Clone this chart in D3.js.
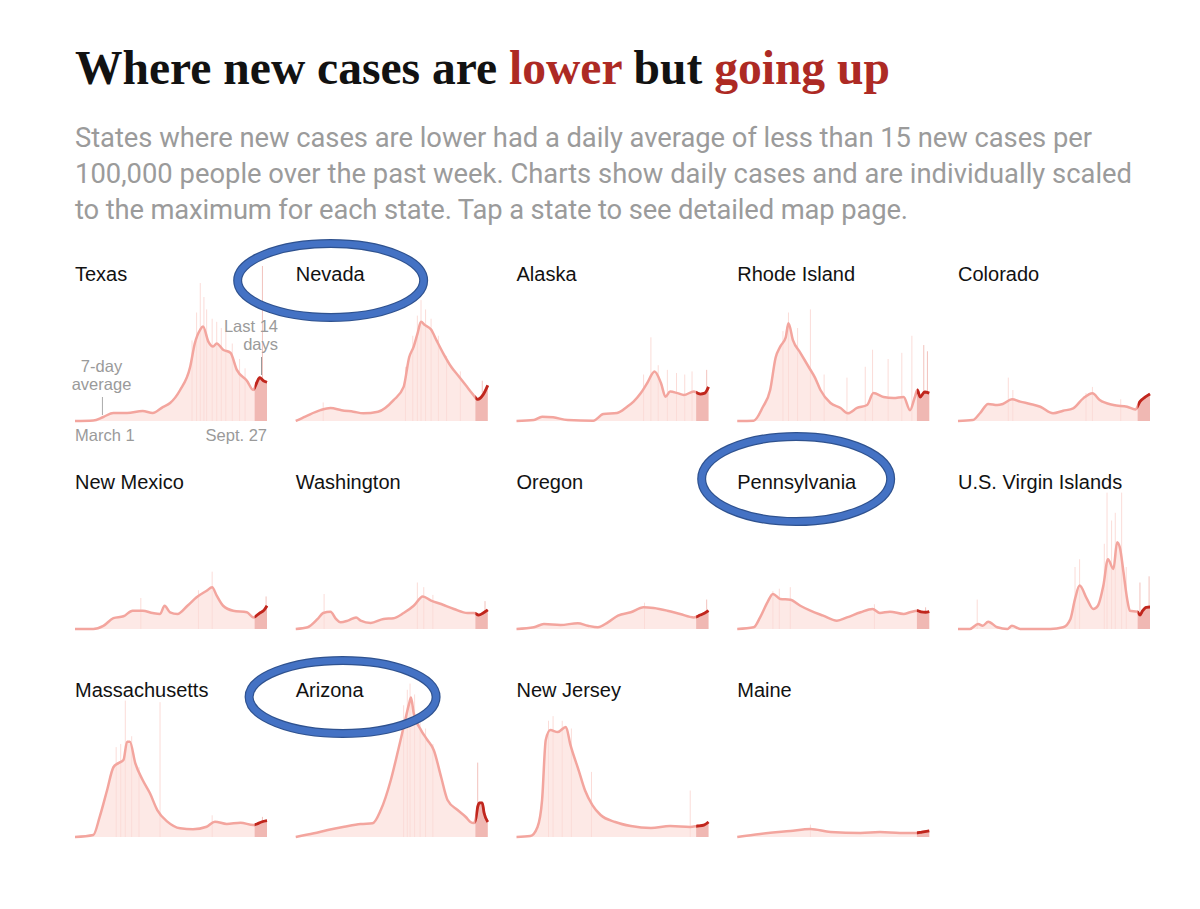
<!DOCTYPE html>
<html><head><meta charset="utf-8">
<script src="https://cdn.jsdelivr.net/npm/d3@7"></script>
<style>body{margin:0;background:#fff}</style>
</head><body><svg id="c" width="1200" height="909"></svg>
<script>
// ---------------- DATA ----------------
const titleParts = [["Where new cases are ", "#121212"], ["lower", "#ad2a24"], [" but ", "#121212"], ["going up", "#ad2a24"]];
const subtitleLines = [
  "States where new cases are lower had a daily average of less than 15 new cases per",
  "100,000 people over the past week. Charts show daily cases and are individually scaled",
  "to the maximum for each state. Tap a state to see detailed map page."
];
const stateNames = ["Texas","Nevada","Alaska","Rhode Island","Colorado","New Mexico","Washington","Oregon","Pennsylvania","U.S. Virgin Islands","Massachusetts","Arizona","New Jersey","Maine"];
const dateLabels = ["March 1", "Sept. 27"];
const avgLabel = ["7-day", "average"];
const last14Label = ["Last 14", "days"];
const totalDays = 210;        // March 1 .. Sept. 27
const last14Start = 196.5;    // Sept. 14

// 7-day average: [day index since March 1, % of state's highest daily count]
const texasAvg = [[0,0],[20,0.3],[31,2.6],[42,5.2],[57,5.2],[74,6.5],[85,5.2],[96,9],[104,11.6],[115,20],[126,35],[131,50],[137,59],[140,61],[146,51],[151,48],[155,50],[162,46],[170,44],[177,33],[188,26],[195,20],[199,25],[202,28],[206,26],[210,25]];
const nevadaAvg = [[0,0],[11,3],[27,7],[38,8.4],[50,7],[63,6],[74,5],[90,6],[107,13.5],[118,22],[124,41],[129,48],[133,56],[137,64],[141,62],[148,59],[154,52],[161,44],[170,35],[178,29],[186,23],[194,17],[199,14],[205,17],[210,23]];
const alaskaAvg = [[0,0],[19,0.6],[28,2.8],[40,2.4],[56,0.6],[84,0.2],[95,4.5],[110,5.2],[121,9.2],[128,12.5],[136,18],[143,24.5],[151,32],[158,24.5],[163,15.7],[168,19],[176,18],[183,16.8],[194,19],[198,18],[201,17.4],[206,18],[210,22]];
const rhodeIslandAvg = [[0,0],[18,0.2],[28,9],[36,20],[42,41],[47,48],[53,54],[56,63],[61,52],[69,44],[78,35],[85,28],[91,20],[102,11.6],[113,8.4],[121,5],[131,8.4],[142,10.3],[149,18],[160,15.5],[171,14.8],[182,15.5],[189,7],[194,15],[197,20],[200,15.5],[205,18.7],[210,18]];
const coloradoAvg = [[0,0],[16,0.6],[24,5],[33,11],[43,10.3],[49,11],[59,14],[68,12.5],[79,11],[90,9.2],[104,5],[115,6.6],[126,8.2],[137,14.6],[147,17.9],[155,13.5],[170,10.3],[185,9.2],[194,7.5],[199,12.5],[205,15.5],[210,17.4]];
const newMexicoAvg = [[0,0],[20,0],[31,2],[42,7],[53,8.2],[63,11.8],[74,11.8],[85,10.3],[93,9.7],[98,15],[104,10.8],[112,9.7],[123,15],[133,20.5],[144,24.7],[150,26.9],[155,21.5],[162,15],[173,11.8],[188,10.8],[195,7.5],[202,10.3],[207,12.3],[210,15]];
const washingtonAvg = [[0,0],[13,1.1],[24,6.5],[30,10.3],[38,11.2],[44,6.5],[49,4.3],[57,5.4],[66,7.5],[71,5.4],[82,3.9],[96,6.5],[107,6.9],[118,10.3],[129,15],[139,21],[148,18.3],[159,16.1],[173,12.9],[188,10.3],[195,10.3],[200,9],[205,10.3],[210,12.3]];
const oregonAvg = [[0,0],[19,1.1],[30,3.2],[48,2.6],[67,3.7],[78,2.1],[89,1.1],[100,4.3],[111,8.6],[125,10.8],[139,14],[150,13.5],[165,11.8],[179,9.7],[194,7.5],[201,9],[206,10.3],[210,11.8]];
const pennsylvaniaAvg = [[0,0],[18,1.1],[25,7.5],[33,17.2],[39,22.6],[47,19.4],[58,18.9],[69,15],[80,11.8],[94,8.6],[109,5.4],[120,7.5],[135,10.8],[148,12.9],[156,10.3],[167,11.2],[182,9.7],[189,10.8],[197,11.8],[201,11],[206,10.8],[210,11.2]];
const virginIslandsAvg = [[0,0],[13,0],[22,3.2],[27,2.1],[33,4.7],[43,1.1],[54,0],[59,2.1],[68,0],[101,0],[115,1.1],[123,6.5],[128,19.4],[133,28],[141,19.4],[148,12.9],[153,15],[159,28],[164,45],[170,38.7],[174,56],[177,52.7],[181,36.6],[185,19.4],[188,11.8],[196,11.2],[199,9],[202,11.8],[206,14],[210,14.2]];
const massachusettsAvg = [[0,0],[20,1.3],[27,13],[35,30],[42,45],[47,47.5],[53,49.7],[57,61.5],[60,61.5],[66,47.5],[74,36.8],[82,28.2],[90,17.4],[101,9.9],[115,5.6],[129,5],[144,6.6],[153,9.9],[166,8.4],[181,9.2],[195,7.7],[199,8.4],[204,9.7],[210,10.5]];
const arizonaAvg = [[0,0],[20,2.4],[35,4.5],[53,6.6],[71,8.4],[84,8.8],[93,17.4],[104,36.8],[112,56],[118,71],[124,86],[126,90],[129,80],[137,69],[144,62.6],[151,56],[159,38.7],[166,23.9],[177,17.4],[186,12.9],[191,9.7],[195,9],[197,12],[199,19.4],[201,22],[204,22],[206,15.5],[210,9.7]];
const newJerseyAvg = [[0,0],[15,0.6],[23,6.5],[28,24],[32,62.6],[37,69],[45,67.7],[54,71],[59,59.4],[68,43],[75,30],[83,20.6],[92,14.2],[108,9.7],[125,7.1],[147,5.8],[168,7.1],[190,6.5],[198,7.1],[205,7.7],[210,9.7]];
const maineAvg = [[0,0],[25,1.9],[58,3.9],[80,5.2],[102,3.2],[135,2.6],[156,3.2],[178,2.6],[195,2.6],[202,3.2],[210,3.9]];

// notable daily bars: [day index, % of state's highest daily count]
const texasSpikes = [[128,52],[133,70],[137,89],[141,80],[144,72],[150,66],[155,64],[160,60],[165,58],[172,50],[180,40],[186,34],[205,100]];
const nevadaSpikes = [[30,12],[120,35],[128,55],[133,68],[137,78],[142,72],[148,66],[156,55],[165,42],[180,32],[204,26]];
const alaskaSpikes = [[139,30],[147,54],[155,36],[165,33],[175,31],[184,30],[192,32],[208,33]];
const rhodeIslandSpikes = [[50,58],[56,70],[66,60],[80,72],[95,30],[120,28],[140,35],[148,46],[165,40],[180,44],[191,55],[204,49],[208,45]];
const coloradoSpikes = [[55,28],[60,20],[140,18],[147,22],[178,14]];
const newMexicoSpikes = [[72,20],[135,25],[150,37],[209,21]];
const washingtonSpikes = [[31,22.6],[133,30],[140,27],[150,22],[207,18]];
const oregonSpikes = [[140,17],[208,19]];
const pennsylvaniaSpikes = [[39,24.5],[46,26],[58,27],[150,16],[206,14]];
const virginIslandsSpikes = [[21,19],[128,40],[133,45],[160,55],[163,88],[168,70],[172,75],[179,88],[184,40],[199,30],[209,34]];
const massachusettsSpikes = [[45,58],[50,60],[55,88],[62,65],[70,45],[93,87],[150,14],[205,13]];
const arizonaSpikes = [[118,85],[122,95],[125,99],[130,92],[136,80],[142,70],[150,60],[199,48]];
const newJerseySpikes = [[35,75],[40,78],[50,75],[60,70],[82,42],[190,30]];
const maineSpikes = [[80,8]];

const avgSeries = [texasAvg,nevadaAvg,alaskaAvg,rhodeIslandAvg,coloradoAvg,newMexicoAvg,washingtonAvg,oregonAvg,pennsylvaniaAvg,virginIslandsAvg,massachusettsAvg,arizonaAvg,newJerseyAvg,maineAvg];
const spikeSeries = [texasSpikes,nevadaSpikes,alaskaSpikes,rhodeIslandSpikes,coloradoSpikes,newMexicoSpikes,washingtonSpikes,oregonSpikes,pennsylvaniaSpikes,virginIslandsSpikes,massachusettsSpikes,arizonaSpikes,newJerseySpikes,maineSpikes];

// hand-drawn highlight ellipses: [state, dx, dy, rx, ry] relative to label centre
const circled = [["Nevada", 0, 6.5, 93, 37], ["Pennsylvania", -1, -3, 94.5, 42.5], ["Arizona", 12.5, 7, 93.5, 36.5]];

// ---------------- DRAW ----------------
const svg = d3.select("#c");
const defs = svg.append("defs");
const sans = "'Liberation Sans', Arial, sans-serif";

// title
const title = svg.append("text").attr("x", 75).attr("y", 84)
  .attr("font-family", "'Liberation Serif', 'DejaVu Serif', serif").attr("font-weight", "bold")
  .attr("font-size", 44).style("white-space", "pre");
title.selectAll("tspan").data(titleParts).join("tspan").text(d => d[0]).attr("fill", d => d[1]);
const tw = title.node().getComputedTextLength();
title.attr("font-size", 44 * 815 / tw);

// subtitle
const sub = svg.append("g").attr("font-family", "Roboto, sans-serif").attr("fill", "#9b9b9b");
const subTargets = [1017, 1057, 833];
const probe = sub.append("text").attr("font-size", 24).text(subtitleLines[1]);
const subSize = 24 * 1057 / probe.node().getComputedTextLength();
probe.remove();
sub.selectAll("text").data(subtitleLines).join("text")
  .attr("x", 75).attr("y", (d, i) => 147 + i * 36.2)
  .attr("font-size", subSize).text(d => d)
  .attr("textLength", (d, i) => subTargets[i]).attr("lengthAdjust", "spacing");

const colScale = d3.scalePoint().domain(d3.range(5)).range([75, 958]);
const rowScale = d3.scalePoint().domain(d3.range(3)).range([421, 837]);
const chartW = 192, chartH = 155;

const labelNodes = {};

stateNames.forEach((name, i) => {
  const left = colScale(i % 5), base = rowScale(Math.floor(i / 5));
  const x = d3.scaleLinear().domain([0, totalDays]).range([left, left + chartW]);
  const y = d3.scaleLinear().domain([0, 100]).range([base, base - chartH]);
  const avg = avgSeries[i], spikes = spikeSeries[i];
  const g = svg.append("g");

  defs.append("clipPath").attr("id", "clip" + i).append("rect")
    .attr("x", x(last14Start)).attr("y", base - chartH - 10)
    .attr("width", x(totalDays) + 3 - x(last14Start)).attr("height", chartH + 20);

  const area = d3.area().x(d => x(d[0])).y0(base).y1(d => y(d[1])).curve(d3.curveMonotoneX);
  const line = d3.line().x(d => x(d[0])).y(d => y(d[1])).curve(d3.curveMonotoneX);

  g.append("path").datum(avg).attr("d", area).attr("fill", "#fde9e6");
  g.selectAll("rect.sp").data(spikes).join("rect").attr("class", "sp")
    .attr("x", d => x(d[0]) - 0.5).attr("width", 1)
    .attr("y", d => y(d[1])).attr("height", d => base - y(d[1]))
    .attr("fill", d => d[0] >= last14Start ? "#f2c2bd" : "#fbdcd8");
  g.append("path").datum(avg).attr("d", area).attr("fill", "#f0b8b3")
    .attr("clip-path", `url(#clip${i})`);
  g.append("path").datum(avg).attr("d", line).attr("fill", "none")
    .attr("stroke", "#f3a59e").attr("stroke-width", 2.5).attr("stroke-linejoin", "round");
  g.append("path").datum(avg).attr("d", line).attr("fill", "none")
    .attr("stroke", "#c0261d").attr("stroke-width", 2.8).attr("stroke-linejoin", "round")
    .attr("clip-path", `url(#clip${i})`);

  labelNodes[name] = svg.append("text").attr("x", left).attr("y", base - 140)
    .attr("font-family", sans).attr("font-size", 20).attr("fill", "#121212").text(name).node();

  if (i === 0) {
    const ann = svg.append("g").attr("font-family", sans).attr("font-size", 16.5).attr("fill", "#9a9a9a");
    ann.selectAll("text.d").data(dateLabels).join("text").attr("class", "d")
      .attr("x", (d, k) => k ? x(totalDays) : x(0)).attr("y", base + 20)
      .attr("text-anchor", (d, k) => k ? "end" : "start").text(d => d);
    ann.selectAll("text.a").data(avgLabel).join("text").attr("class", "a")
      .attr("x", x(29)).attr("y", (d, k) => base - 49 + k * 18)
      .attr("text-anchor", "middle").text(d => d);
    svg.append("line").attr("x1", x(30)).attr("x2", x(30)).attr("y1", base - 24).attr("y2", base - 6)
      .attr("stroke", "#aaa").attr("stroke-width", 1);
    ann.selectAll("text.l").data(last14Label).join("text").attr("class", "l")
      .attr("x", x(totalDays) + 11).attr("y", (d, k) => base - 89 + k * 18)
      .attr("text-anchor", "end").text(d => d);
    svg.append("line").attr("x1", x(204)).attr("x2", x(204)).attr("y1", base - 64).attr("y2", base - 46)
      .attr("stroke", "#999").attr("stroke-width", 1);
  }
});

// highlight ellipses
circled.forEach(([name, dx, dy, rx, ry]) => {
  const bb = labelNodes[name].getBBox();
  const cx = bb.x + bb.width / 2 + dx, cy = bb.y + bb.height / 2 + dy;
  svg.append("ellipse").attr("cx", cx).attr("cy", cy).attr("rx", rx).attr("ry", ry)
    .attr("fill", "none").attr("stroke", "#2f528f").attr("stroke-width", 9);
  svg.append("ellipse").attr("cx", cx).attr("cy", cy).attr("rx", rx).attr("ry", ry)
    .attr("fill", "none").attr("stroke", "#4472c4").attr("stroke-width", 6.6);
});
</script>
</body></html>
